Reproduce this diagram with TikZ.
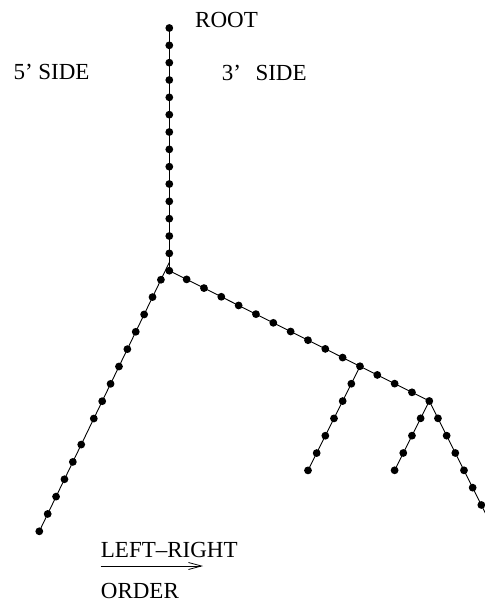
\documentclass[tikz,border=0pt]{standalone}
\usepackage{fontspec}
\setmainfont{Liberation Serif}
\usetikzlibrary{arrows.meta,calc}
\begin{document}
\begin{tikzpicture}[x=1pt,y=-1pt,
  dot/.style={circle,fill=black,inner sep=0pt,minimum size=7.8pt},
  lbl/.style={anchor=base west,inner sep=0pt,font=\fontsize{23}{27}\selectfont},
  chain/.style={line width=0.9pt}]
\clip (0,0) rectangle (485,603);
% junctions and ends
\coordinate (root) at (169.3,28);
\coordinate (J0) at (169.3,270.7);
\coordinate (L0) at (169.3,262.4);
\coordinate (Lend) at (39.3,531.3);
\coordinate (J1) at (360,366.4);
\coordinate (J2) at (429.3,401);
\coordinate (E1) at (308,470.4);
\coordinate (E2) at (394.6,470.3);
\coordinate (E3) at (490,522.3);
% connectors
\draw[chain] (root) -- (J0);
\draw[chain] (L0) -- (Lend);
\draw[chain] (J0) -- (J2);
\draw[chain] (J1) -- (E1);
\draw[chain] (J2) -- (E2);
\draw[chain] (J2) -- (E3);
% dots
\foreach \k in {0,...,14} \node[dot] (s\k) at ($(root)!\k/14!(J0)$) {};
\foreach \k [count=\i] in {1,2,3,4,5,6,7,8,9,10.5,11.5,12.5,13.5,14.5,15.5}
  \node[dot] (l\i) at ($(L0)!\k/15.5!(Lend)$) {};
\foreach \k in {1,...,15} \node[dot] (r\k) at ($(J0)!\k/15!(J2)$) {};
\foreach \k in {1,...,6} \node[dot] (a\k) at ($(J1)!\k/6!(E1)$) {};
\foreach \k in {1,...,4} \node[dot] (b\k) at ($(J2)!\k/4!(E2)$) {};
\foreach \k in {1,...,6} \node[dot] (c\k) at ($(J2)!\k/7!(E3)$) {};
% labels
\node[lbl] (rootlbl) at (195,27.3) {ROOT};
\node[lbl] (five) at (13.3,79.5) {5’ SIDE};
\node[lbl] (three) at (221.7,80) {3’\hspace{14.5pt}SIDE};
\node[lbl] (lr) at (100.7,557) {LEFT–RIGHT};
\node[lbl] (order) at (100.7,598) {ORDER};
\coordinate (ar0) at (100.7,566);
\coordinate (ar1) at (203,566);
\draw[line width=0.8pt,-{Straight Barb[length=13pt,width=7pt]}] (ar0) -- (ar1);
\end{tikzpicture}
\end{document}
